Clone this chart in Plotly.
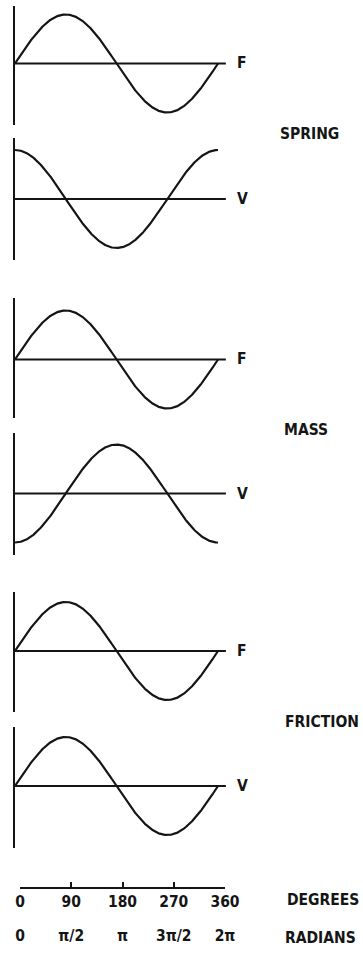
import numpy as np
import plotly.graph_objects as go

# --- chart content -------------------------------------------------------
SYSTEMS = ["SPRING", "MASS", "FRICTION"]
# phase (degrees) of the force and velocity waves for each element
FORCE_PHASE = [0, 0, 0]
VELOCITY_PHASE = [90, -90, 0]
WAVE_NAMES = ["F", "V"]

DEGREE_TICKS = [0, 90, 180, 270, 360]
DEGREE_LABELS = ["0", "90", "180", "270", "360"]
RADIAN_LABELS = ["0", "π/2", "π", "3π/2", "2π"]
AXIS_TITLES = ["DEGREES", "RADIANS"]

# --- page geometry (pixels) ---------------------------------------------
W, H = 363, 954
AXIS_X = 15            # left vertical axis of each wave panel
PX_PER_DEG = 203 / 360  # horizontal scale of the wave panels
BASE_END_DEG = 374     # how far the zero line runs to the right
AMP_PX = 49            # one unit of amplitude in pixels

# top, bottom and baseline of every wave panel
PANEL_TOP = [6, 138, 298, 433, 592, 727]
PANEL_BOTTOM = [125, 260, 418, 555, 712, 848]
PANEL_BASE = [63.5, 199, 359.5, 493.5, 651, 786]
LABEL_X = 242
SYSTEM_LABEL_POS = [(278, 134), (282, 430), (283, 722)]

INK = "#151515"
FONT = dict(family="DejaVu Sans Condensed, DejaVu Sans", size=15.5,
            color=INK, weight="bold")


def py(v):
    """pixel row -> paper fraction"""
    return 1 - v / H


fig = go.Figure()
layout = dict(
    width=W, height=H,
    margin=dict(l=0, r=0, t=0, b=0, pad=0, autoexpand=False),
    paper_bgcolor="white", plot_bgcolor="rgba(0,0,0,0)",
    showlegend=False,
)
shapes, annotations = [], []

theta = np.linspace(0, 360, 721)
phases = []
for f, v in zip(FORCE_PHASE, VELOCITY_PHASE):
    phases += [f, v]

x_right = (W - AXIS_X) / PX_PER_DEG
for i, ph in enumerate(phases):
    n = i + 1
    xa, ya = f"xaxis{n}", f"yaxis{n}"
    xr, yr = f"x{n}", f"y{n}"
    top, bot, base = PANEL_TOP[i], PANEL_BOTTOM[i], PANEL_BASE[i]
    layout[xa] = dict(domain=[AXIS_X / W, 1], range=[0, x_right], visible=False,
                      anchor=yr, fixedrange=True, automargin=False)
    layout[ya] = dict(domain=[py(bot), py(top)],
                      range=[-(bot - base) / AMP_PX, (base - top) / AMP_PX],
                      anchor=xr, showline=True, linecolor=INK, linewidth=2,
                      showticklabels=False, ticks="", showgrid=False,
                      zeroline=False, fixedrange=True, automargin=False)
    fig.add_trace(go.Scatter(
        x=theta, y=np.sin(np.radians(theta + ph)), mode="lines",
        line=dict(color=INK, width=2.2), xaxis=xr, yaxis=yr,
        hoverinfo="skip"))
    shapes.append(dict(type="line", xref=xr, yref=yr, x0=0, x1=BASE_END_DEG,
                       y0=0, y1=0, line=dict(color=INK, width=1.8)))
    annotations.append(dict(text=WAVE_NAMES[i % 2], xref="paper", yref="paper",
                            x=LABEL_X / W, y=py(base), xanchor="center",
                            yanchor="middle", showarrow=False, font=FONT))

for name, (lx, ly) in zip(SYSTEMS, SYSTEM_LABEL_POS):
    annotations.append(dict(text=name, xref="paper", yref="paper",
                            x=lx / W, y=py(ly), xanchor="left",
                            yanchor="middle", showarrow=False, font=FONT))

# degree scale with upward ticks
layout["xaxis7"] = dict(domain=[20 / W, 225 / W], range=[0, 360], anchor="y7",
                        showline=True, linecolor=INK, linewidth=1.5,
                        ticks="inside", ticklen=5, tickwidth=1.5, tickcolor=INK,
                        tickvals=DEGREE_TICKS, ticktext=DEGREE_LABELS,
                        tickfont=FONT, showgrid=False, zeroline=False,
                        fixedrange=True, automargin=False)
layout["yaxis7"] = dict(domain=[py(887), py(870)], visible=False, anchor="x7",
                        range=[0, 1], fixedrange=True, automargin=False)
# radian labels for the same positions
layout["xaxis8"] = dict(domain=[20 / W, 225 / W], range=[0, 360], anchor="y8",
                        showline=False, ticks="", tickvals=DEGREE_TICKS,
                        ticktext=RADIAN_LABELS, tickfont=FONT, showgrid=False,
                        zeroline=False, fixedrange=True, automargin=False)
layout["yaxis8"] = dict(domain=[py(924), py(915)], visible=False, anchor="x8",
                        range=[0, 1], fixedrange=True, automargin=False)
# empty traces so the scale axes are drawn
fig.add_trace(go.Scatter(x=[], y=[], xaxis="x7", yaxis="y7"))
fig.add_trace(go.Scatter(x=[], y=[], xaxis="x8", yaxis="y8"))

for title, ly, lx in zip(AXIS_TITLES, [900, 938], [285, 283]):
    annotations.append(dict(text=title, xref="paper", yref="paper",
                            x=lx / W, y=py(ly), xanchor="left",
                            yanchor="middle", showarrow=False, font=FONT))

layout["shapes"] = shapes
layout["annotations"] = annotations
fig.update_layout(**layout)
fig.write_html("out.html", config={"displayModeBar": False})
